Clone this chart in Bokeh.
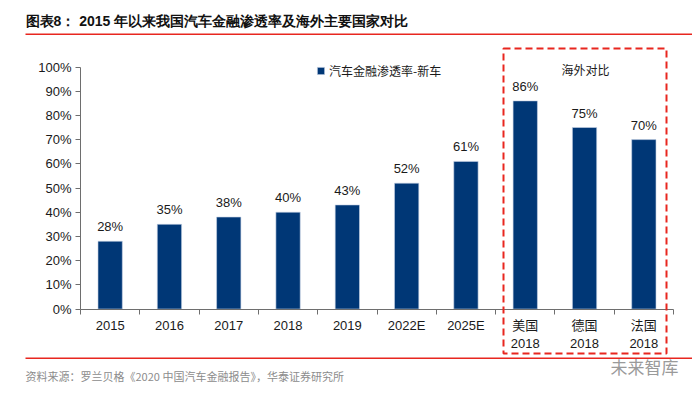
from bokeh.plotting import figure
from bokeh.models import (Range1d, FixedTicker, PrintfTickFormatter, LabelSet, Label,
                          ColumnDataSource, BoxAnnotation, Legend)
from bokeh.core.properties import value
from bokeh.embed import file_html
from bokeh.resources import INLINE

categories = ["2015", "2016", "2017", "2018", "2019", "2022E", "2025E",
              "美国\n2018", "德国\n2018", "法国\n2018"]
values = [28, 35, 38, 40, 43, 52, 61, 86, 75, 70]
value_labels = ["28%", "35%", "38%", "40%", "43%", "52%", "61%", "86%", "75%", "70%"]
y_ticks = [0, 10, 20, 30, 40, 50, 60, 70, 80, 90, 100]
series_name = "汽车金融渗透率-新车"
title_text = "图表8：  2015 年以来我国汽车金融渗透率及海外主要国家对比"
source_text = "资料来源：罗兰贝格《2020 中国汽车金融报告》，华泰证券研究所"
box_text = "海外对比"
watermark = "未来智库"

BAR = "#003776"
RED = "#e8261f"
SANS = "Liberation Sans"
CJK = "Noto Sans CJK SC"

W, H = 692, 389
n = len(categories)
xs = [i + 0.5 for i in range(n)]
src = ColumnDataSource(dict(x=xs, top=values, lab=value_labels))

# frame covers the whole figure; axes are placed at fixed locations
PX_X = 59.3   # pixels per category
PX_Y = 2.42   # pixels per percent
X0, Y0 = 80, 80.5  # screen position of data origin (from bottom-left)
x_range = Range1d(-X0 / PX_X, (W - X0) / PX_X)
y_range = Range1d(-Y0 / PX_Y, (H - Y0) / PX_Y)

p = figure(width=W, height=H, output_backend="svg", toolbar_location=None,
           x_range=x_range, y_range=y_range,
           min_border_left=0, min_border_right=0, min_border_top=0, min_border_bottom=0)
p.outline_line_color = None
p.xgrid.visible = False
p.ygrid.visible = False

r = p.vbar(x="x", top="top", width=0.41, source=src, fill_color=BAR,
           line_color="#c8d3e6", line_width=0.6)

p.add_layout(LabelSet(x="x", y="top", text="lab", source=src, text_align="center",
                      text_baseline="bottom", y_offset=7, text_font_size=value("13px"),
                      text_font=value(SANS), text_color=value("#1a1a1a")))

# axes
p.yaxis.fixed_location = 0
p.yaxis.bounds = (0, 100)
p.yaxis.ticker = FixedTicker(ticks=y_ticks)
p.yaxis.formatter = PrintfTickFormatter(format="%d%%")
p.yaxis.major_tick_in = 0
p.yaxis.major_tick_out = 5
p.yaxis.minor_tick_line_color = None
p.yaxis.major_label_standoff = 4
p.yaxis.major_label_text_font = SANS
p.yaxis.major_label_text_font_size = "13px"
p.yaxis.major_label_text_color = "#1a1a1a"
p.yaxis.axis_line_color = "#6e6e6e"
p.yaxis.major_tick_line_color = "#6e6e6e"

p.xaxis.fixed_location = 0
p.xaxis.bounds = (0, n)
p.xaxis.ticker = FixedTicker(ticks=xs, minor_ticks=list(range(n + 1)))
p.xaxis.major_label_overrides = {x: c for x, c in zip(xs, categories)}
p.xaxis.major_tick_in = 0
p.xaxis.major_tick_out = 0
p.xaxis.minor_tick_in = 0
p.xaxis.minor_tick_out = 5
p.xaxis.major_label_standoff = 4
p.xaxis.major_label_text_font = "Liberation Sans, Noto Sans CJK SC"
p.xaxis.major_label_text_font_size = "13px"
p.xaxis.major_label_text_color = "#1a1a1a"
p.xaxis.axis_line_color = "#6e6e6e"
p.xaxis.minor_tick_line_color = "#6e6e6e"

# legend
legend = Legend(items=[(series_name, [r])], location=(316, 310), orientation="vertical",
                glyph_width=9, glyph_height=9, label_height=14, label_standoff=4,
                padding=0, margin=0, border_line_color=None, background_fill_alpha=0,
                label_text_font=CJK, label_text_font_size="12px", label_text_color="#1a1a1a")
p.add_layout(legend)

def scr(**kw):
    return dict(kw, **{k + "_units": "screen" for k in kw})

# title, rules, source
p.add_layout(Label(x=25, y=369, x_units="screen", y_units="screen", text=title_text,
                   text_font=SANS, text_font_style="bold", text_font_size="14px",
                   text_color="#111111", text_baseline="middle"))
p.add_layout(BoxAnnotation(**scr(left=25, right=692, top=356, bottom=354.5),
                           fill_color=RED, fill_alpha=1, line_color=None))
p.add_layout(BoxAnnotation(**scr(left=25, right=692, top=32, bottom=30.5),
                           fill_color=RED, fill_alpha=1, line_color=None))
p.add_layout(Label(x=25, y=14, x_units="screen", y_units="screen", text=source_text,
                   text_font=CJK, text_font_size="11px", text_color="#8c8c8c",
                   text_baseline="middle"))
p.add_layout(Label(x=678, y=23, x_units="screen", y_units="screen", text=watermark,
                   text_font=CJK, text_font_size="17px", text_color="#9a9a9a",
                   text_baseline="middle", text_align="right"))

# dashed overseas box
p.add_layout(BoxAnnotation(**scr(left=503, right=666, top=341, bottom=36),
                           fill_alpha=0, line_color=RED, line_alpha=1, line_width=2,
                           line_dash="7 4"))
p.add_layout(Label(x=585, y=320, x_units="screen", y_units="screen", text=box_text,
                   text_font=CJK, text_font_size="12px", text_color="#1a1a1a",
                   text_baseline="middle", text_align="center"))

open("out.html", "w").write(file_html(p, INLINE))
